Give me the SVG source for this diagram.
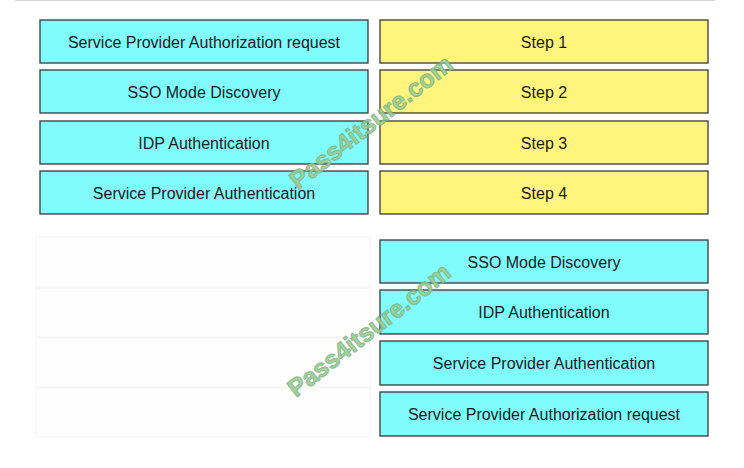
<svg xmlns="http://www.w3.org/2000/svg" width="744" height="468" viewBox="0 0 744 468">
<style>
.c{fill:#80fcfc;stroke:#3a3a3a;stroke-width:1.3}
.y{fill:#fff47e;stroke:#3a3a3a;stroke-width:1.3}
.g{fill:#fefefe;stroke:#f5f6f5;stroke-width:1.2}
.t{font-family:"Liberation Sans",Arial,sans-serif;font-size:16px;fill:#1b1b1b;text-anchor:middle}
.w{font-family:"Liberation Sans",Arial,sans-serif;font-weight:bold;font-size:25px;fill:#9ccf8c;stroke:#7fb58a;stroke-width:1;opacity:0.9}
</style>
<rect width="744" height="468" fill="#ffffff"/>
<line x1="15" y1="0.5" x2="715" y2="0.5" stroke="#d8d8d8" stroke-width="1"/>
<g id="left-1"><rect class="c" x="40" y="20" width="328" height="43"/><text class="t" x="204" y="48">Service Provider Authorization request</text></g>
<g id="left-2"><rect class="c" x="40" y="70" width="328" height="43"/><text class="t" x="204" y="98">SSO Mode Discovery</text></g>
<g id="left-3"><rect class="c" x="40" y="121" width="328" height="43"/><text class="t" x="204" y="149">IDP Authentication</text></g>
<g id="left-4"><rect class="c" x="40" y="171" width="328" height="43"/><text class="t" x="204" y="199">Service Provider Authentication</text></g>
<g id="step-1"><rect class="y" x="380" y="20" width="328" height="43"/><text class="t" x="544" y="48">Step 1</text></g>
<g id="step-2"><rect class="y" x="380" y="70" width="328" height="43"/><text class="t" x="544" y="98">Step 2</text></g>
<g id="step-3"><rect class="y" x="380" y="121" width="328" height="43"/><text class="t" x="544" y="149">Step 3</text></g>
<g id="step-4"><rect class="y" x="380" y="171" width="328" height="43"/><text class="t" x="544" y="199">Step 4</text></g>
<g id="empty-1"><rect class="g" x="36" y="237" width="334" height="50"/></g>
<g id="empty-2"><rect class="g" x="36" y="288" width="334" height="49"/></g>
<g id="empty-3"><rect class="g" x="36" y="338" width="334" height="49"/></g>
<g id="empty-4"><rect class="g" x="36" y="388" width="334" height="49"/></g>
<g id="ans-1"><rect class="c" x="380" y="240" width="328" height="43"/><text class="t" x="544" y="268">SSO Mode Discovery</text></g>
<g id="ans-2"><rect class="c" x="380" y="290" width="328" height="44"/><text class="t" x="544" y="318">IDP Authentication</text></g>
<g id="ans-3"><rect class="c" x="380" y="341" width="328" height="44"/><text class="t" x="544" y="369">Service Provider Authentication</text></g>
<g id="ans-4"><rect class="c" x="380" y="392" width="328" height="44"/><text class="t" x="544" y="420">Service Provider Authorization request</text></g>
<g id="connectors"></g>
<text class="w" transform="translate(298,190) rotate(-38)">Pass4itsure.com</text>
<text class="w" transform="translate(296,398) rotate(-38)">Pass4itsure.com</text>
</svg>
